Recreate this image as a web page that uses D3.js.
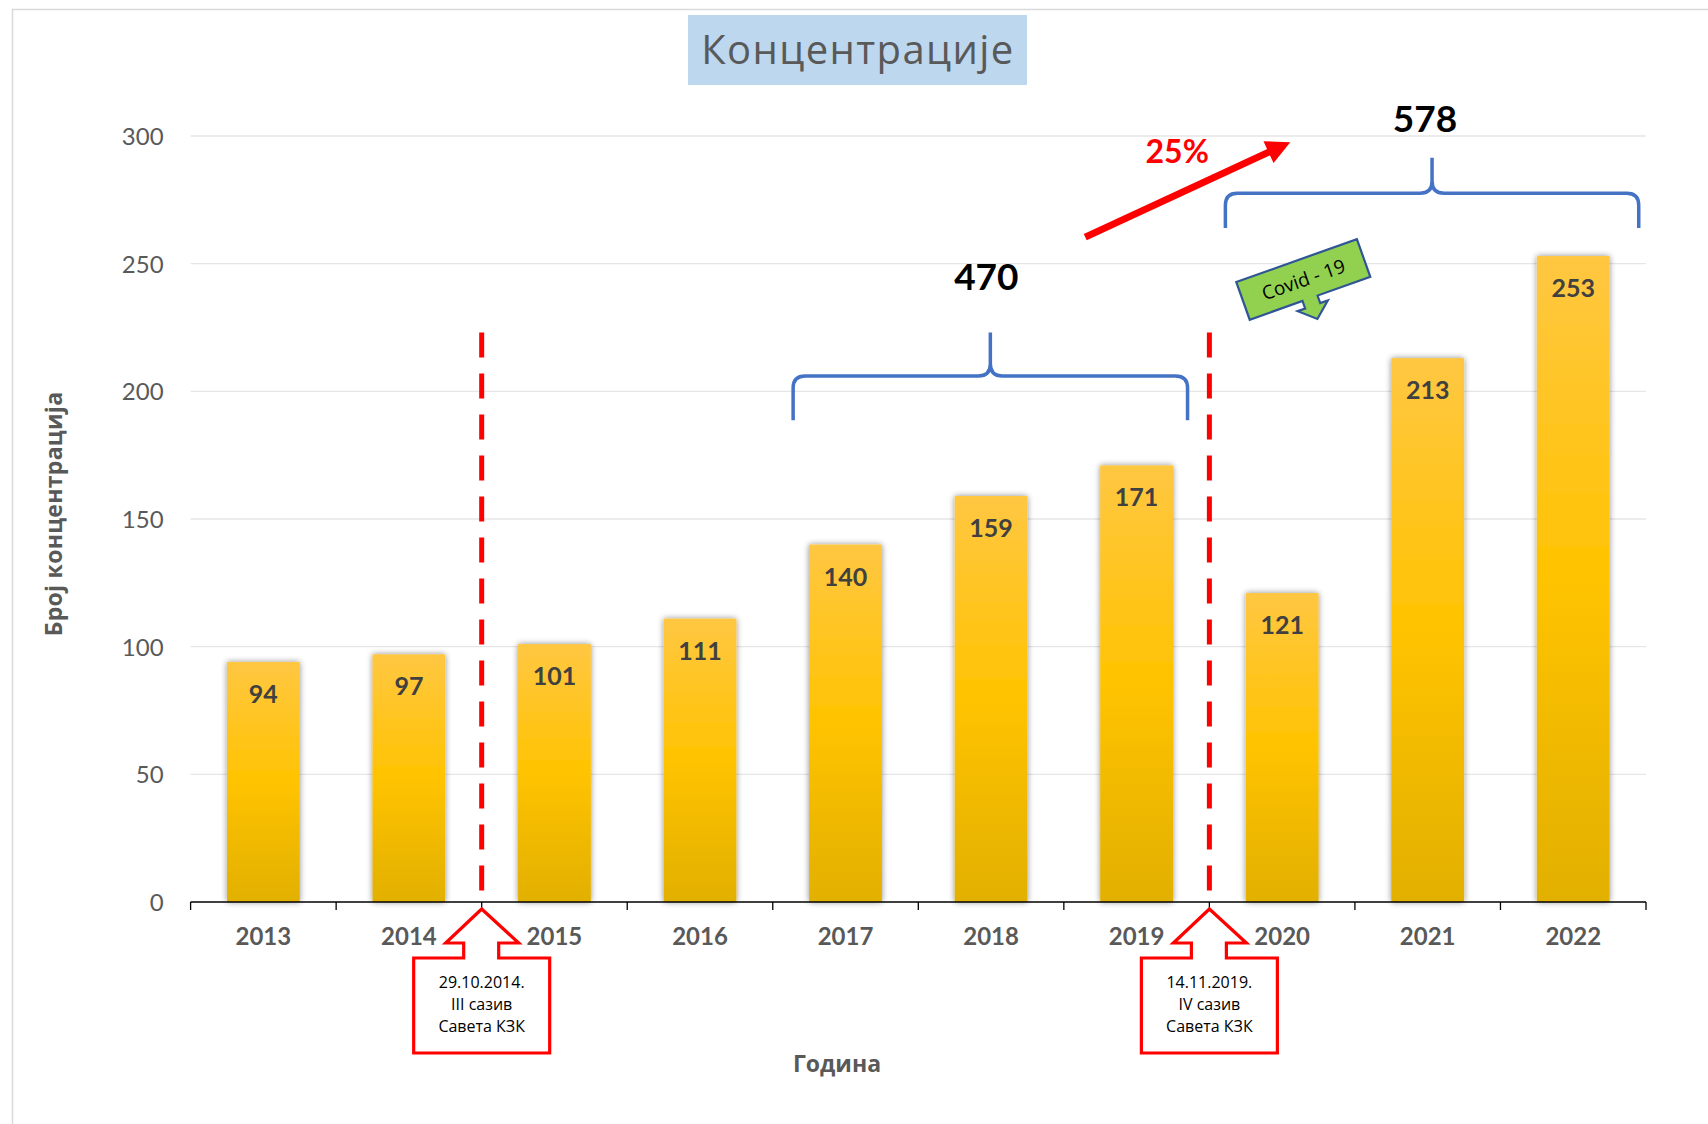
<!DOCTYPE html>
<html>
<head>
<meta charset="utf-8">
<script src="https://cdn.jsdelivr.net/npm/d3@7"></script>
<style>
  body { margin: 0; background: #fff; }
  svg { display: block; font-family: Lato, "Open Sans", sans-serif; }
</style>
</head>
<body>
<script>
// chart data
var years = ["2013", "2014", "2015", "2016", "2017", "2018", "2019", "2020", "2021", "2022"];
var counts = [94, 97, 101, 111, 140, 159, 171, 121, 213, 253];
var yTicks = [0, 50, 100, 150, 200, 250, 300];
var councilDates = [["29.10.2014.", "III сазив", "Савета КЗК"], ["14.11.2019.", "IV сазив", "Савета КЗК"]];
var councilAfter = ["2014", "2019"]; // dashed line sits after these years
var braceSums = [470, 578];
var braceFrom = [4.14, 7.11];  // in band steps
var braceTo = [6.85, 9.95];
var growth = "25%";

var width = 1708, height = 1124;
var svg = d3.select("body").append("svg").attr("width", width).attr("height", height);

var defs = svg.append("defs");
var grad = defs.append("linearGradient").attr("id", "barGrad")
  .attr("x1", 0).attr("y1", 0).attr("x2", 0).attr("y2", 1);
grad.append("stop").attr("offset", "0%").attr("stop-color", "#FFC742");
grad.append("stop").attr("offset", "50%").attr("stop-color", "#FFC300");
grad.append("stop").attr("offset", "100%").attr("stop-color", "#E2B000");
var shadow = defs.append("filter").attr("id", "barShadow")
  .attr("x", "-20%").attr("y", "-5%").attr("width", "140%").attr("height", "110%");
shadow.append("feGaussianBlur").attr("in", "SourceAlpha").attr("stdDeviation", 3).attr("result", "blur");
shadow.append("feComponentTransfer").attr("in", "blur").attr("result", "sh")
  .append("feFuncA").attr("type", "linear").attr("slope", 0.45);
var merge = shadow.append("feMerge");
merge.append("feMergeNode").attr("in", "sh");
merge.append("feMergeNode").attr("in", "SourceGraphic");

// chart frame
svg.append("rect").attr("x", 12.5).attr("y", 9.5).attr("width", width).attr("height", height)
  .attr("fill", "none").attr("stroke", "#D9D9D9").attr("stroke-width", 1.5);

var plotL = 190.6, plotR = 1646, plotT = 136, plotB = 902;
var x = d3.scaleBand().domain(years).range([plotL, plotR]).paddingInner(0.5).paddingOuter(0.25);
var y = d3.scaleLinear().domain([0, 300]).range([plotB, plotT]);
var step = x.step();
var xs = function (i) { return plotL + step * i; };

// title
svg.append("rect").attr("x", 688).attr("y", 15).attr("width", 339).attr("height", 70).attr("fill", "#BDD7EE");
svg.append("text").attr("x", 858).attr("y", 64).attr("text-anchor", "middle").attr("font-family", "Open Sans")
  .attr("font-size", 40).attr("letter-spacing", 1.4).attr("fill", "#595959").text("Концентрације");

// gridlines
svg.append("g").selectAll("line").data(yTicks.filter(function (d) { return d > 0; })).enter().append("line")
  .attr("x1", plotL).attr("x2", plotR).attr("y1", function (d) { return y(d); }).attr("y2", function (d) { return y(d); })
  .attr("stroke", "#E6E6E6").attr("stroke-width", 1.3);

// y axis labels
var yAxis = svg.append("g").attr("transform", "translate(" + (plotL - 27) + ",0)")
  .call(d3.axisLeft(y).tickValues(yTicks).tickSize(0).tickPadding(0));
yAxis.select(".domain").remove();
yAxis.selectAll("text").attr("font-size", 24).attr("fill", "#595959").attr("font-family", "Lato").attr("dy", "0.35em");

// bars
svg.append("g").selectAll("rect").data(counts).enter().append("rect")
  .attr("x", function (d, i) { return x(years[i]); })
  .attr("y", function (d) { return y(d); })
  .attr("width", x.bandwidth())
  .attr("height", function (d) { return y(0) - y(d); })
  .attr("fill", "url(#barGrad)").attr("filter", "url(#barShadow)");

svg.append("g").selectAll("text").data(counts).enter().append("text")
  .attr("x", function (d, i) { return x(years[i]) + x.bandwidth() / 2; })
  .attr("y", function (d) { return y(d) + 41; })
  .attr("text-anchor", "middle").attr("font-size", 25).attr("font-weight", "bold").attr("fill", "#404040")
  .text(function (d) { return d; });

// x axis
svg.append("line").attr("x1", plotL).attr("x2", plotR).attr("y1", plotB).attr("y2", plotB)
  .attr("stroke", "#000").attr("stroke-width", 1.5);
svg.append("g").selectAll("line").data(d3.range(years.length + 1)).enter().append("line")
  .attr("x1", function (i) { return xs(i); }).attr("x2", function (i) { return xs(i); })
  .attr("y1", plotB).attr("y2", plotB + 8).attr("stroke", "#000").attr("stroke-width", 1.3);
svg.append("g").selectAll("text").data(years).enter().append("text")
  .attr("x", function (d) { return x(d) + x.bandwidth() / 2; })
  .attr("y", 945).attr("text-anchor", "middle").attr("font-size", 24).attr("font-weight", "bold")
  .attr("fill", "#595959").text(function (d) { return d; });

// axis titles
svg.append("text").attr("transform", "translate(62,514) rotate(-90)").attr("text-anchor", "middle")
  .attr("font-family", "Open Sans").attr("font-size", 23).attr("letter-spacing", 0.3).attr("font-weight", "bold")
  .attr("fill", "#595959").text("Број концентрација");
svg.append("text").attr("x", 837).attr("y", 1072).attr("text-anchor", "middle").attr("font-family", "Open Sans")
  .attr("font-size", 23).attr("font-weight", "bold").attr("fill", "#595959").text("Година");

// council dashed lines + callouts
councilAfter.forEach(function (yr, k) {
  var cx = xs(years.indexOf(yr) + 1);
  svg.append("line").attr("x1", cx).attr("x2", cx).attr("y1", y(223)).attr("y2", plotB + 2)
    .attr("stroke", "#FF0000").attr("stroke-width", 5).attr("stroke-dasharray", "25,16");
  var tip = 909, wing = 943, neck = 958, boxB = 1053;
  var pts = [[cx, tip], [cx + 37, wing], [cx + 17, wing], [cx + 17, neck], [cx + 68, neck], [cx + 68, boxB],
    [cx - 68, boxB], [cx - 68, neck], [cx - 18, neck], [cx - 18, wing], [cx - 36, wing]];
  svg.append("polygon").attr("points", pts.map(function (p) { return p.join(","); }).join(" "))
    .attr("fill", "#fff").attr("stroke", "#FF0000").attr("stroke-width", 3.2).attr("stroke-linejoin", "miter");
  svg.append("g").selectAll("text").data(councilDates[k]).enter().append("text")
    .attr("x", cx).attr("y", function (d, i) { return 988 + i * 22; }).attr("font-family", "Open Sans")
    .attr("text-anchor", "middle").attr("font-size", 16).attr("fill", "#000").text(function (d) { return d; });
});

// braces
function bracePath(x0, x1, yb, yh, yt) {
  var xc = (x0 + x1) / 2, r = 12;
  return "M" + x0 + "," + yb + " V" + (yh + r) + " Q" + x0 + "," + yh + " " + (x0 + r) + "," + yh +
    " H" + (xc - r) + " Q" + xc + "," + yh + " " + xc + "," + (yh - r) + " V" + yt +
    " M" + xc + "," + (yh - r) + " Q" + xc + "," + yh + " " + (xc + r) + "," + yh +
    " H" + (x1 - r) + " Q" + x1 + "," + yh + " " + x1 + "," + (yh + r) + " V" + yb;
}
var braceY = [[188.7, 206, 223, 239.5], [264, 277.6, 291.5, 301.5]];
braceSums.forEach(function (s, k) {
  var x0 = xs(braceFrom[k]), x1 = xs(braceTo[k]), b = braceY[k];
  svg.append("path").attr("d", bracePath(x0, x1, y(b[0]), y(b[1]), y(b[2])))
    .attr("fill", "none").attr("stroke", "#4472C4").attr("stroke-width", 3.5);
  svg.append("text").attr("x", (x0 + x1) / 2 - 4 - k * 3).attr("y", y(b[3])).attr("text-anchor", "middle")
    .attr("font-size", 37).attr("font-weight", "bold").attr("fill", "#000").text(s);
});

// growth arrow
var a0 = [xs(6.147), y(260.4)], a1 = [xs(7.556), y(297.6)];
var dx = a1[0] - a0[0], dy = a1[1] - a0[1], len = Math.sqrt(dx * dx + dy * dy);
var ux = dx / len, uy = dy / len, hl = 24, hw = 12;
var base = [a1[0] - ux * hl, a1[1] - uy * hl];
svg.append("line").attr("x1", a0[0]).attr("y1", a0[1]).attr("x2", base[0] + ux * 2).attr("y2", base[1] + uy * 2)
  .attr("stroke", "#FF0000").attr("stroke-width", 7);
svg.append("polygon").attr("fill", "#FF0000")
  .attr("points", [a1, [base[0] - uy * hw, base[1] + ux * hw], [base[0] + uy * hw, base[1] - ux * hw]]
    .map(function (p) { return p.join(","); }).join(" "));
svg.append("text").attr("x", xs(6.779)).attr("y", y(289.3)).attr("text-anchor", "middle")
  .attr("font-size", 32).attr("font-weight", "bold").attr("fill", "#FF0000").text(growth);

// covid callout
var cg = svg.append("g").attr("transform", "translate(" + xs(7.185) + "," + y(242.8) + ") rotate(-19.6)");
var cw = 128, ch = 40;
var cpts = [[0, 0], [cw, 0], [cw, ch], [72, ch], [72, ch + 8], [80, ch + 8], [64, ch + 22], [48, ch + 8], [56, ch + 8], [56, ch], [0, ch]];
cg.append("polygon").attr("points", cpts.map(function (p) { return p.join(","); }).join(" "))
  .attr("fill", "#92D050").attr("stroke", "#2F5597").attr("stroke-width", 2.2);
cg.append("text").attr("x", cw / 2).attr("y", ch / 2 + 7).attr("text-anchor", "middle").attr("font-family", "Open Sans")
  .attr("font-size", 19).attr("fill", "#000").text("Covid - 19");
</script>
</body>
</html>
